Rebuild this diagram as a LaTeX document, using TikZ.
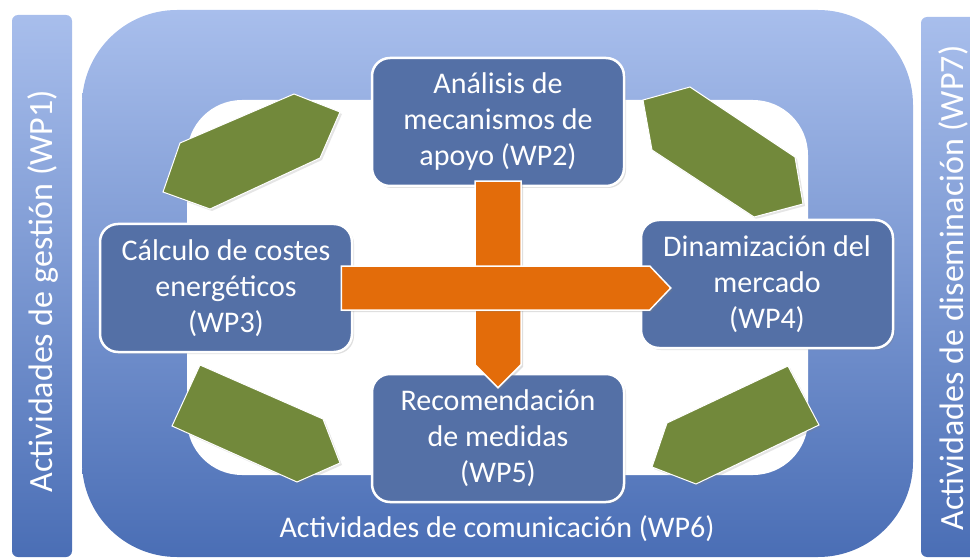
\documentclass[tikz,border=0pt]{standalone}
\usepackage{fontspec}
\setmainfont{Carlito}
\usepackage{tikz}
\usetikzlibrary{calc,positioning,shadows}

\definecolor{lightblue}{RGB}{168,190,236}
\definecolor{darkblue}{RGB}{74,110,181}
\definecolor{boxblue}{RGB}{84,112,166}
\definecolor{arroworange}{RGB}{227,108,10}
\definecolor{leafgreen}{RGB}{114,137,59}

\tikzset{
	wpbox/.style={draw=white, line width=2.5pt, fill=boxblue, rounded corners=18pt, text=white, align=center,
		minimum width=252pt, minimum height=128pt, font=\fontsize{30}{36}\selectfont,
		drop shadow={opacity=0.25,shadow xshift=2pt,shadow yshift=-2pt}},
	bigarrow/.style={fill=arroworange, draw=white, line width=1.5pt,
		drop shadow={opacity=0.25,shadow xshift=2pt,shadow yshift=-2pt}},
	leaf/.style={fill=leafgreen, draw=white, line width=1pt,
		drop shadow={opacity=0.2,shadow xshift=2pt,shadow yshift=-2pt}},
	sidebar/.style={top color=lightblue, bottom color=darkblue, rounded corners=6pt},
	sidetext/.style={rotate=90, text=white, font=\fontsize{34}{40}\selectfont}
}

\begin{document}
\begin{tikzpicture}[x=1pt,y=-1pt]
		\clip (0,0) rectangle (970,559);
		% side bars
		\shade[sidebar] (12,15) rectangle (72,557);
		\shade[sidebar] (921,17) rectangle (990,557);
		\node[sidetext] (wp1) at (43,291) {Actividades de gestión (WP1)};
		\node[sidetext] (wp7) at (953,288) {Actividades de diseminación (WP7)};
		% frame
		\shade[top color=lightblue, bottom color=darkblue, rounded corners=95pt] (82,10) rectangle (913,557);
		\fill[white, rounded corners=55pt] (187,100) rectangle (808,475);
		\node[text=white, font=\fontsize{30}{36}\selectfont] (wp6) at (497,529) {Actividades de comunicación (WP6)};
		% leaves
		\draw[leaf] (180,143) -- (294,94) -- (340,112) -- (320,158) -- (210,209) -- (163,192) -- cycle;
		\draw[leaf] (643,100) -- (690,87) -- (795,157) -- (803,204) -- (754,217) -- (652,150) -- cycle;
		\draw[leaf] (200,365) -- (323,419) -- (340,463) -- (297,482) -- (172,426) -- cycle;
		\draw[leaf] (788,366) -- (819,425) -- (696,484) -- (652,467) -- (667,423) -- cycle;
		% work packages
		\node[wpbox] (wp2) at (498,122) {Análisis de\\mecanismos de\\apoyo (WP2)};
		\node[wpbox] (wp3) at (226,288) {Cálculo de costes\\energéticos\\(WP3)};
		\node[wpbox] (wp4) at (767,284) {Dinamización del\\mercado\\(WP4)};
		\node[wpbox] (wp5) at (498,438) {Recomendación\\de medidas\\(WP5)};
		% flows
		\coordinate (v0) at ($(wp2.south)+(0,-6)$);
		\coordinate (v1) at ($(wp5.north)+(0,15)$);
		\draw[bigarrow] ($(v0)+(-23,0)$) -- ($(v1)+(-23,-23)$) -- (v1) -- ($(v1)+(23,-23)$) -- ($(v0)+(23,0)$) -- cycle;
		\coordinate (h0) at ($(wp3.east)+(-12,0)$);
		\coordinate (h1) at ($(wp4.west|-wp3.east)+(31,0)$);
		\draw[bigarrow] ($(h0)+(0,-22)$) -- ($(h1)+(-21,-22)$) -- (h1) -- ($(h1)+(-21,22)$) -- ($(h0)+(0,22)$) -- cycle;
	\end{tikzpicture}
\end{document}
